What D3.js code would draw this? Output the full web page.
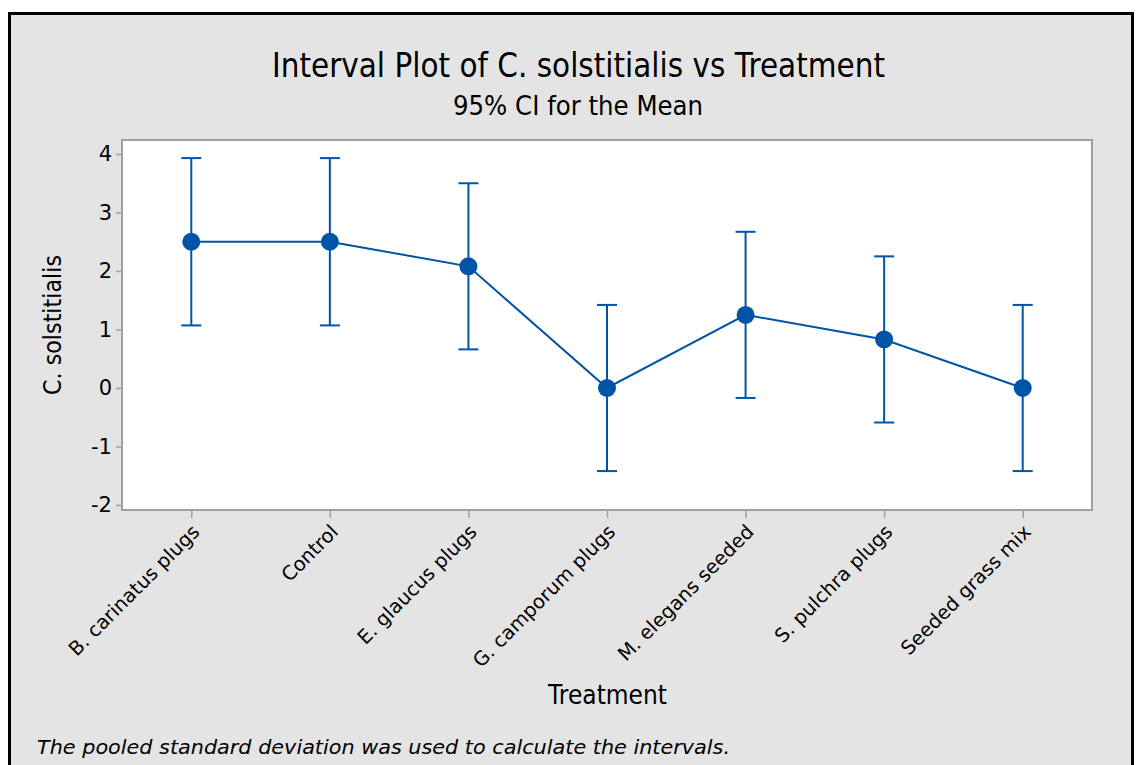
<!DOCTYPE html>
<html>
<head>
<meta charset="utf-8">
<script src="https://cdn.jsdelivr.net/npm/d3@7/dist/d3.min.js"></script>
<style>
  html, body { margin: 0; padding: 0; background: #ffffff; }
  svg { display: block; }
  text { font-family: "DejaVu Sans", Verdana, sans-serif; fill: #000; }
</style>
</head>
<body>
<svg id="chart" width="1136" height="765"></svg>
<script>
// ---- data ----
const categories = ["B. carinatus plugs", "Control", "E. glaucus plugs", "G. camporum plugs",
                    "M. elegans seeded", "S. pulchra plugs", "Seeded grass mix"];
const means = [2.50, 2.50, 2.08, 0.00, 1.25, 0.83, 0.00];
const lowerCI = [1.07, 1.07, 0.66, -1.42, -0.17, -0.59, -1.42];
const upperCI = [3.93, 3.93, 3.50, 1.42, 2.67, 2.25, 1.42];
const yTicks = [-2, -1, 0, 1, 2, 3, 4];
const yTickLabels = ["-2", "-1", "0", "1", "2", "3", "4"];

const title = "Interval Plot of C. solstitialis vs Treatment";
const subtitle = "95% CI for the Mean";
const yTitle = "C. solstitialis";
const xTitle = "Treatment";
const footnote = "The pooled standard deviation was used to calculate the intervals.";

// ---- layout ----
const svg = d3.select("#chart");
const blue = "#0054a6";
const gray = "#a0a0a0";
const plot = { left: 122, right: 1092, top: 140, bottom: 510 };

// outer frame
svg.append("rect").attr("x", 9.5).attr("y", 13.5).attr("width", 1123).attr("height", 800)
  .attr("fill", "#e4e4e4").attr("stroke", "#000").attr("stroke-width", 3);

const x = d3.scalePoint().domain(categories).range([plot.left, plot.right]).padding(0.5);
const y = d3.scaleLinear().domain([-2, 4]).range([505, 154]);

// plot background
svg.append("rect").attr("x", plot.left).attr("y", plot.top)
  .attr("width", plot.right - plot.left).attr("height", plot.bottom - plot.top)
  .attr("fill", "#fff").attr("stroke", gray).attr("stroke-width", 2);

// y axis
const yAxis = svg.append("g").attr("transform", `translate(${plot.left - 1},0)`)
  .call(d3.axisLeft(y).tickValues(yTicks).tickSize(5).tickPadding(4)
    .tickFormat((d, i) => yTickLabels[i]));
yAxis.select(".domain").remove();
yAxis.selectAll(".tick line").attr("stroke", gray).attr("stroke-width", 1.5);
yAxis.selectAll(".tick text").attr("font-size", 21).attr("font-family", "DejaVu Sans").attr("fill", "#000");

// x axis
const xAxis = svg.append("g").attr("transform", `translate(0,${plot.bottom + 1})`)
  .call(d3.axisBottom(x).tickSize(7).tickPadding(6));
xAxis.select(".domain").remove();
xAxis.selectAll(".tick line").attr("stroke", gray).attr("stroke-width", 1.5);
xAxis.selectAll(".tick text")
  .attr("font-size", 19.5).attr("font-family", "DejaVu Sans").attr("fill", "#000")
  .attr("text-anchor", "end").attr("dy", null).attr("y", null)
  .attr("transform", "translate(9,22) rotate(-45)");

// error bars
const g = svg.append("g");
categories.forEach((c, i) => {
  const cx = x(c);
  g.append("line").attr("x1", cx).attr("x2", cx).attr("y1", y(lowerCI[i])).attr("y2", y(upperCI[i]))
    .attr("stroke", blue).attr("stroke-width", 2);
  [lowerCI[i], upperCI[i]].forEach(v => {
    g.append("line").attr("x1", cx - 10).attr("x2", cx + 10).attr("y1", y(v)).attr("y2", y(v))
      .attr("stroke", blue).attr("stroke-width", 2);
  });
});

// connecting line
const line = d3.line().x((d, i) => x(categories[i])).y(d => y(d));
g.append("path").datum(means).attr("d", line).attr("fill", "none")
  .attr("stroke", blue).attr("stroke-width", 2);

// mean points
g.selectAll("circle.mean").data(means).enter().append("circle")
  .attr("cx", (d, i) => x(categories[i])).attr("cy", d => y(d)).attr("r", 9)
  .attr("fill", blue);

// titles
svg.append("text").attr("x", 272).attr("y", 77).attr("font-size", 33)
  .attr("textLength", 613).attr("lengthAdjust", "spacingAndGlyphs").text(title);
svg.append("text").attr("x", 453).attr("y", 115).attr("font-size", 26)
  .attr("textLength", 250).attr("lengthAdjust", "spacingAndGlyphs").text(subtitle);
svg.append("text").attr("transform", "translate(61,395) rotate(-90)").attr("font-size", 24)
  .attr("textLength", 140).attr("lengthAdjust", "spacingAndGlyphs").text(yTitle);
svg.append("text").attr("x", 548).attr("y", 704).attr("font-size", 27)
  .attr("textLength", 119).attr("lengthAdjust", "spacingAndGlyphs").text(xTitle);
svg.append("text").attr("x", 37).attr("y", 754).attr("font-size", 20).attr("font-style", "italic")
  .attr("textLength", 693).attr("lengthAdjust", "spacingAndGlyphs").text(footnote);
</script>
</body>
</html>
